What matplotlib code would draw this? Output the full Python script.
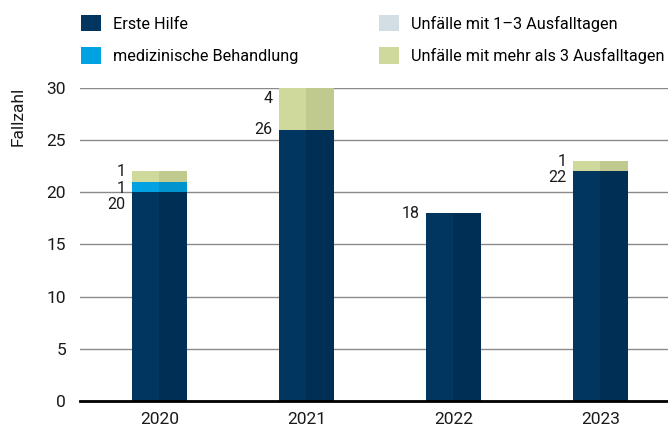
import numpy as np
import matplotlib
matplotlib.use('Agg')
from matplotlib import pyplot as plt

plt.rcParams['font.family'] = ['Roboto', 'DejaVu Sans']

# Fallzahlen je Jahr und Kategorie
years = ['2020', '2021', '2022', '2023']
erste_hilfe = [20, 26, 18, 22]
med_behandlung = [1, 0, 0, 0]
unfaelle_1_3 = [0, 0, 0, 0]
unfaelle_mehr_3 = [1, 4, 0, 1]

series = [
    ('Erste Hilfe', erste_hilfe, '#00365f', '#002f56'),
    ('medizinische Behandlung', med_behandlung, '#00a2e2', '#0093cd'),
    ('Unfälle mit 1–3 Ausfalltagen', unfaelle_1_3, '#d2dde4', '#c4d0d8'),
    ('Unfälle mit mehr als 3 Ausfalltagen', unfaelle_mehr_3, '#cfd99c', '#c0ca8f'),
]

fig = plt.figure(figsize=(6.68, 4.32), dpi=100)
ax = fig.add_axes([0.1198, 0.0718, 0.8802, 0.7245])

x = np.arange(len(years))
w = 0.37
bottom = np.zeros(len(years))
handles = []
for name, vals, c_left, c_right in series:
    vals = np.array(vals, dtype=float)
    # linke und rechte Hälfte in leicht unterschiedlichen Tönen
    h = ax.bar(x - w / 4, vals, w / 2, bottom=bottom, color=c_left, zorder=3, label=name)
    ax.bar(x + w / 4, vals, w / 2, bottom=bottom, color=c_right, zorder=3)
    handles.append(h)
    bottom += vals

# Wertebeschriftung links neben den Balken, von oben nach unten gestaffelt
for i in range(len(years)):
    tops = []
    cum = 0
    for name, vals, _, _ in series:
        if vals[i] > 0:
            cum += vals[i]
            tops.append((cum, vals[i]))
    y_prev = None
    for top, v in reversed(tops):
        y = min(top, 29)
        if y_prev is not None:
            y = min(y, y_prev - 1.6)
        ax.annotate(str(v), (x[i] - w / 2, y), xytext=(-5, 0), textcoords='offset points',
                    ha='right', va='center', fontsize=11.5, color='#1a1a1a')
        y_prev = y

ax.set_xlim(-0.54, 3.46)
ax.set_ylim(0, 30)
ax.set_yticks(range(0, 31, 5))
ax.set_xticks(x)
ax.set_xticklabels(years)
ax.tick_params(axis='both', length=0, labelsize=12.5, colors='#1a1a1a')
ax.tick_params(axis='y', pad=10)
ax.tick_params(axis='x', pad=8)
ax.grid(axis='y', color='#8a8a8a', linewidth=1, zorder=0)
for s in ['top', 'right', 'left']:
    ax.spines[s].set_visible(False)
ax.spines['bottom'].set_linewidth(2)
ax.spines['bottom'].set_zorder(4)

ax.set_ylabel('Fallzahl', fontsize=12.5, color='#1a1a1a')
ax.yaxis.set_label_coords(-0.092, 0.91)

fig.legend(handles=handles, loc='upper left', bbox_to_anchor=(0.099, 1.0), ncol=2,
           frameon=False, fontsize=11.7, handlelength=1.22, handleheight=1.22,
           handletextpad=0.75, columnspacing=5.0, labelspacing=0.95)

fig.savefig('out.png', dpi=100)
